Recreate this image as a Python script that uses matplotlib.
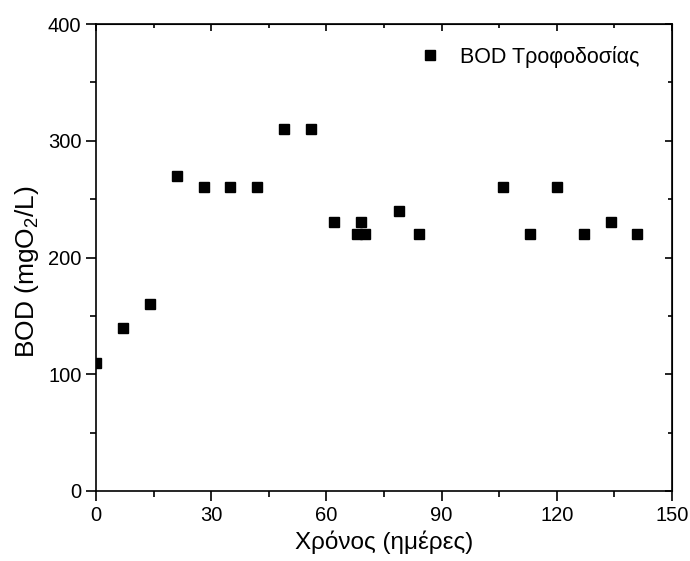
import matplotlib
matplotlib.use('Agg')
import matplotlib.pyplot as plt
from matplotlib.ticker import MultipleLocator

plt.rcParams['font.family'] = ['Liberation Sans', 'DejaVu Sans']
plt.rcParams['mathtext.fontset'] = 'custom'
plt.rcParams['mathtext.rm'] = 'Liberation Sans'
plt.rcParams['mathtext.it'] = 'Liberation Sans:italic'

# days and feed BOD values
days = [0, 7, 14, 21, 28, 35, 42, 49, 56, 62, 68, 69, 70, 79, 84,
        106, 113, 120, 127, 134, 141]
bod = [110, 140, 160, 270, 260, 260, 260, 310, 310, 230, 220, 230, 220, 240, 220,
       260, 220, 260, 220, 230, 220]

fig = plt.figure(figsize=(6.9, 5.61), dpi=100)
ax = fig.add_axes([96/690, 1 - 491/561, 576/690, 467/561])

ax.plot(days, bod, linestyle='none', marker='s', markersize=7.5,
        color='black', label='BOD Τροφοδοσίας')

ax.set_xlim(0, 150)
ax.set_ylim(0, 400)
ax.xaxis.set_major_locator(MultipleLocator(30))
ax.xaxis.set_minor_locator(MultipleLocator(15))
ax.yaxis.set_major_locator(MultipleLocator(100))
ax.yaxis.set_minor_locator(MultipleLocator(50))

ax.tick_params(which='both', direction='out', labelsize=14.5, width=1.2)
ax.tick_params(which='major', length=7)
ax.tick_params(which='minor', length=4)
for s in ax.spines.values():
    s.set_linewidth(1.2)

# top and right axes carry short inward ticks, no labels
top = ax.secondary_xaxis('top')
top.set_xticks(range(0, 151, 30))
top.xaxis.set_minor_locator(MultipleLocator(15))
top.tick_params(which='both', direction='in', labeltop=False, width=1.2)
top.tick_params(which='major', length=5)
top.tick_params(which='minor', length=3)
right = ax.secondary_yaxis('right')
right.set_yticks(range(0, 401, 100))
right.yaxis.set_minor_locator(MultipleLocator(50))
right.tick_params(which='both', direction='in', labelright=False, width=1.2)
right.tick_params(which='major', length=5)
right.tick_params(which='minor', length=3)

ax.set_xlabel('Χρόνος (ημέρες)', fontsize=17.5, labelpad=4)
ax.set_ylabel('BOD (mgO$_2$/L)', fontsize=19, labelpad=5)
ax.yaxis.label.set_y(0.47)

ax.legend(loc='upper right', bbox_to_anchor=(0.959, 0.972), frameon=False,
          fontsize=15.5, handletextpad=0.4, borderaxespad=0, markerscale=0.9)

fig.savefig('out.png', dpi=100)
